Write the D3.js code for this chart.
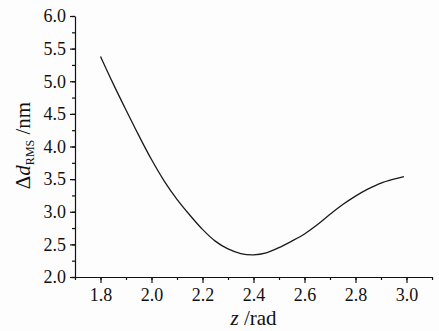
<!DOCTYPE html>
<html>
<head>
<meta charset="utf-8">
<script src="https://cdn.jsdelivr.net/npm/d3@7"></script>
<style>
  body { margin: 0; background: #fdfdfd; }
  svg { display: block; }
  text { font-family: "Liberation Serif", "DejaVu Serif", serif; fill: #111; }
  .axis path, .axis line { stroke: #111; stroke-width: 1.2; }
</style>
</head>
<body>
<div id="chart"></div>
<script>
// z (rad) and delta d RMS (nm)
const zValues = [1.80, 1.85, 1.90, 1.95, 2.00, 2.05, 2.10, 2.15, 2.20, 2.25, 2.30, 2.35, 2.40,
                 2.45, 2.50, 2.55, 2.60, 2.65, 2.70, 2.75, 2.80, 2.85, 2.90, 2.95, 2.99];
const dRms = [5.38, 4.96, 4.56, 4.17, 3.80, 3.47, 3.19, 2.95, 2.73, 2.55, 2.43, 2.36, 2.34,
              2.37, 2.45, 2.55, 2.66, 2.80, 2.96, 3.11, 3.24, 3.35, 3.44, 3.50, 3.54];
const xTicks = [1.8, 2.0, 2.2, 2.4, 2.6, 2.8, 3.0];
const yTicks = [2.0, 2.5, 3.0, 3.5, 4.0, 4.5, 5.0, 5.5, 6.0];

const W = 439, H = 331;
const margin = {top: 16, right: 7, bottom: 54, left: 75};
const width = W - margin.left - margin.right,
      height = H - margin.top - margin.bottom;

const svg = d3.select("#chart").append("svg")
    .attr("width", W)
    .attr("height", H);

const g = svg.append("g")
    .attr("transform", "translate(" + margin.left + "," + margin.top + ")");

const x = d3.scaleLinear().domain([1.7, 3.1]).range([0, width]);
const y = d3.scaleLinear().domain([2, 6]).range([height, 0]);

// minor ticks first
const xMinor = d3.range(17, 32).map(d => d / 10);
const yMinor = d3.range(8, 25).map(d => d / 4);

g.append("g")
    .attr("class", "axis")
    .attr("transform", `translate(0,${height})`)
    .call(d3.axisBottom(x).tickValues(xMinor).tickSize(3).tickFormat(""))
    .call(a => a.select(".domain").remove());

g.append("g")
    .attr("class", "axis")
    .call(d3.axisLeft(y).tickValues(yMinor).tickSize(3).tickFormat(""))
    .call(a => a.select(".domain").remove());

g.append("g")
    .attr("class", "axis")
    .attr("transform", `translate(0,${height})`)
    .call(d3.axisBottom(x).tickValues(xTicks).tickSize(6).tickSizeOuter(0).tickPadding(5)
        .tickFormat(d3.format(".1f")))
    .attr("font-family", null)
    .attr("font-size", 18);

g.append("g")
    .attr("class", "axis")
    .call(d3.axisLeft(y).tickValues(yTicks).tickSize(5).tickSizeOuter(0).tickPadding(4)
        .tickFormat(d3.format(".1f")))
    .attr("font-family", null)
    .attr("font-size", 18);

const data = zValues.map((z, i) => ({z: z, v: dRms[i]}));

const line = d3.line()
    .x(d => x(d.z))
    .y(d => y(d.v))
    .curve(d3.curveCatmullRom);

g.append("path")
    .datum(data)
    .attr("fill", "none")
    .attr("stroke", "#1a1a1a")
    .attr("stroke-width", 1.3)
    .attr("d", line);

// axis titles
const xt = svg.append("text")
    .attr("x", margin.left + width / 2)
    .attr("y", 325)
    .attr("text-anchor", "middle")
    .style("font-size", "21px");
xt.append("tspan").style("font-style", "italic").text("z");
xt.append("tspan").text(" /rad");

const yt = svg.append("text")
    .attr("transform", `translate(30,${margin.top + height / 2 - 1}) rotate(-90)`)
    .attr("text-anchor", "middle")
    .style("font-size", "21px");
yt.append("tspan").text("Δ");
yt.append("tspan").style("font-style", "italic").text("d");
yt.append("tspan").attr("dy", 4).style("font-size", "12px").text("RMS");
yt.append("tspan").attr("dy", -4).text(" /nm");
</script>
</body>
</html>
